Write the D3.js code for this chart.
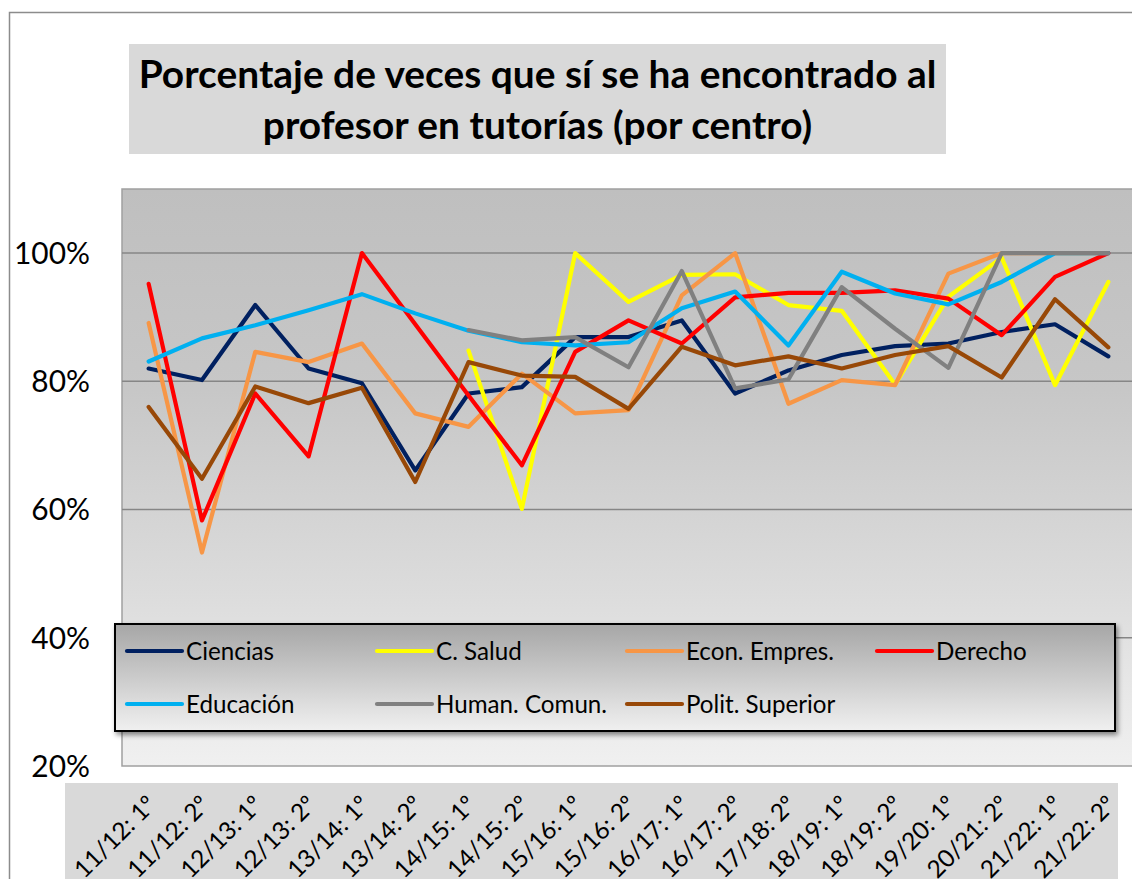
<!DOCTYPE html>
<html><head><meta charset="utf-8">
<script src="https://cdn.jsdelivr.net/npm/d3@7"></script>
<style>body{margin:0;background:#fff;overflow:hidden;} svg{display:block;}</style>
</head><body><svg id="c" width="1132" height="879"></svg>
<script>
const categories = ["11/12: 1º","11/12: 2º","12/13: 1º","12/13: 2º","13/14: 1º","13/14: 2º","14/15: 1º","14/15: 2º","15/16: 1º","15/16: 2º","16/17: 1º","16/17: 2º","17/18: 2º","18/19: 1º","18/19: 2º","19/20: 1º","20/21: 2º","21/22: 1º","21/22: 2º"];
const ciencias   = [82.0, 80.2, 91.9, 82.0, 79.7, 66.1, 78.1, 79.1, 86.9, 86.9, 89.5, 78.1, 81.7, 84.1, 85.5, 85.9, 87.7, 88.9, 83.9];
const cSalud     = [null, null, null, null, null, null, 84.8, 60.1, 100, 92.4, 96.6, 96.7, 91.9, 91.0, 79.5, 93.2, 99.3, 79.4, 95.5];
const econ       = [89.1, 53.3, 84.6, 83.0, 85.9, 75.0, 72.9, 81.2, 75.0, 75.5, 93.4, 100, 76.5, 80.2, 79.4, 96.8, 100, 100, 100];
const derecho    = [95.2, 58.3, 78.1, 68.3, 100, 88.9, 77.8, 66.9, 84.6, 89.5, 85.9, 93.1, 93.8, 93.8, 94.2, 92.9, 87.2, 96.3, 100];
const educacion  = [83.1, 86.7, 88.75, 91.1, 93.6, 90.6, 87.9, 86.1, 85.6, 86.1, 91.4, 94.0, 85.6, 97.1, 93.7, 92.0, 95.5, 100, 100];
const human      = [null, null, null, null, null, null, 88.0, 86.4, 86.9, 82.2, 97.2, 78.9, 80.3, 94.7, 88.2, 82.1, 100, 100, 100];
const polit      = [76.0, 64.8, 79.2, 76.6, 79.0, 64.3, 83.0, 80.9, 80.7, 75.7, 85.4, 82.5, 83.9, 82.0, 84.1, 85.5, 80.6, 92.8, 85.3];
const seriesNames  = ["Ciencias","C. Salud","Econ. Empres.","Derecho","Educación","Human. Comun.","Polit. Superior"];
const seriesValues = [ciencias, cSalud, econ, derecho, educacion, human, polit];
const seriesColors = ["#002060","#ffff00","#f79646","#ff0000","#00b0f0","#808080","#984807"];
const yTicks = [20, 40, 60, 80, 100];
const titleLines = ["Porcentaje de veces que sí se ha encontrado al","profesor en tutorías (por centro)"];

const FONT = "Lato, 'Open Sans', sans-serif";
const svg = d3.select("#c");
const plot = {left:122, top:189, right:1135, bottom:766};
const x = d3.scalePoint().domain(categories).range([plot.left, plot.right]).padding(0.5);
const y = d3.scaleLinear().domain([20, 110]).range([plot.bottom, plot.top]);

function fitSize(sel, target){
  const w = sel.node().getComputedTextLength();
  return parseFloat(sel.attr("font-size")) * target / w;
}

const defs = svg.append("defs");
const pg = defs.append("linearGradient").attr("id","plotGrad").attr("x1",0).attr("y1",0).attr("x2",0).attr("y2",1);
pg.append("stop").attr("offset","0%").attr("stop-color","#bfbfbf");
pg.append("stop").attr("offset","35%").attr("stop-color","#c7c7c7");
pg.append("stop").attr("offset","70%").attr("stop-color","#dcdcdc");
pg.append("stop").attr("offset","100%").attr("stop-color","#f0f0f0");
const lg = defs.append("linearGradient").attr("id","legGrad").attr("x1",0).attr("y1",0).attr("x2",0).attr("y2",1);
lg.append("stop").attr("offset","0%").attr("stop-color","#a6a6a6");
lg.append("stop").attr("offset","100%").attr("stop-color","#f0f0f0");
const f = defs.append("filter").attr("id","shadow").attr("x","-5%").attr("y","-10%").attr("width","110%").attr("height","130%");
f.append("feDropShadow").attr("dx",2).attr("dy",3).attr("stdDeviation",2.5).attr("flood-color","#000").attr("flood-opacity",0.45);

// outer chart border
svg.append("rect").attr("x",9.5).attr("y",12.5).attr("width",1300).attr("height",1000)
  .attr("fill","#fff").attr("stroke","#8c8c8c").attr("stroke-width",1.5);

// title
svg.append("rect").attr("x",129).attr("y",44).attr("width",817).attr("height",110).attr("fill","#d9d9d9");
const t1 = svg.append("text").attr("x",537.5).attr("y",88).attr("text-anchor","middle")
  .attr("font-family",FONT).attr("font-weight","bold").attr("font-size",34).attr("fill","#000").text(titleLines[0]);
const tsize = fitSize(t1, 798);
t1.attr("font-size", tsize);
svg.append("text").attr("x",537.5).attr("y",139).attr("text-anchor","middle")
  .attr("font-family",FONT).attr("font-weight","bold").attr("font-size",tsize).attr("fill","#000").text(titleLines[1]);

// plot area
svg.append("rect").attr("x",plot.left).attr("y",plot.top).attr("width",plot.right-plot.left).attr("height",plot.bottom-plot.top)
  .attr("fill","url(#plotGrad)").attr("stroke","#a0a0a0").attr("stroke-width",1.5);

// gridlines
svg.append("g").selectAll("line").data(yTicks.filter(d=>d>20)).join("line")
  .attr("x1",plot.left).attr("x2",plot.right).attr("y1",d=>y(d)).attr("y2",d=>y(d))
  .attr("stroke","#868686").attr("stroke-width",1.5);

// y labels
const yl = svg.append("g").selectAll("text").data(yTicks).join("text")
  .attr("x",90).attr("y",d=>y(d)).attr("dy","0.36em").attr("text-anchor","end")
  .attr("font-family",FONT).attr("font-size",29).attr("fill","#000").text(d=>d+"%");
const ysize = fitSize(yl.filter(d=>d===100), 76);
yl.attr("font-size", ysize);

// x label area
svg.append("rect").attr("x",65).attr("y",783).attr("width",1053).attr("height",120).attr("fill","#d9d9d9");
const xl = svg.append("g").selectAll("text").data(categories).join("text")
  .attr("transform",d=>`translate(${x(d)+9},${806}) rotate(-45)`)
  .attr("text-anchor","end").attr("font-family",FONT).attr("font-size",24).attr("fill","#000").text(d=>d);
const xsize = fitSize(xl.filter((d,i)=>i===0), 104);
xl.attr("font-size", xsize);

// lines
const line = d3.line().defined(d=>d.v!=null).x(d=>x(d.c)).y(d=>y(d.v));
svg.append("g").selectAll("path").data(seriesValues).join("path")
  .attr("d",vals=>line(vals.map((v,i)=>({c:categories[i],v}))))
  .attr("fill","none").attr("stroke",(d,i)=>seriesColors[i]).attr("stroke-width",4.2)
  .attr("stroke-linejoin","round").attr("stroke-linecap","round");

// legend
svg.append("rect").attr("x",115).attr("y",624).attr("width",1000).attr("height",107)
  .attr("fill","url(#legGrad)").attr("stroke","#000").attr("stroke-width",2).attr("filter","url(#shadow)");
const leg = svg.append("g").selectAll("g").data(seriesNames).join("g")
  .attr("transform",(d,i)=>`translate(${127 + 250*(i%4)},${651 + 53*Math.floor(i/4)})`);
leg.append("line").attr("x1",0).attr("x2",55).attr("y1",0).attr("y2",0)
  .attr("stroke",(d,i)=>seriesColors[i]).attr("stroke-width",4.2).attr("stroke-linecap","round");
const lt = leg.append("text").attr("x",59).attr("y",0).attr("dy","0.36em")
  .attr("font-family",FONT).attr("font-size",22).attr("fill","#000").text(d=>d);
const lsize = fitSize(lt.filter((d,i)=>i===0), 88);
lt.attr("font-size", lsize);
</script></body></html>
